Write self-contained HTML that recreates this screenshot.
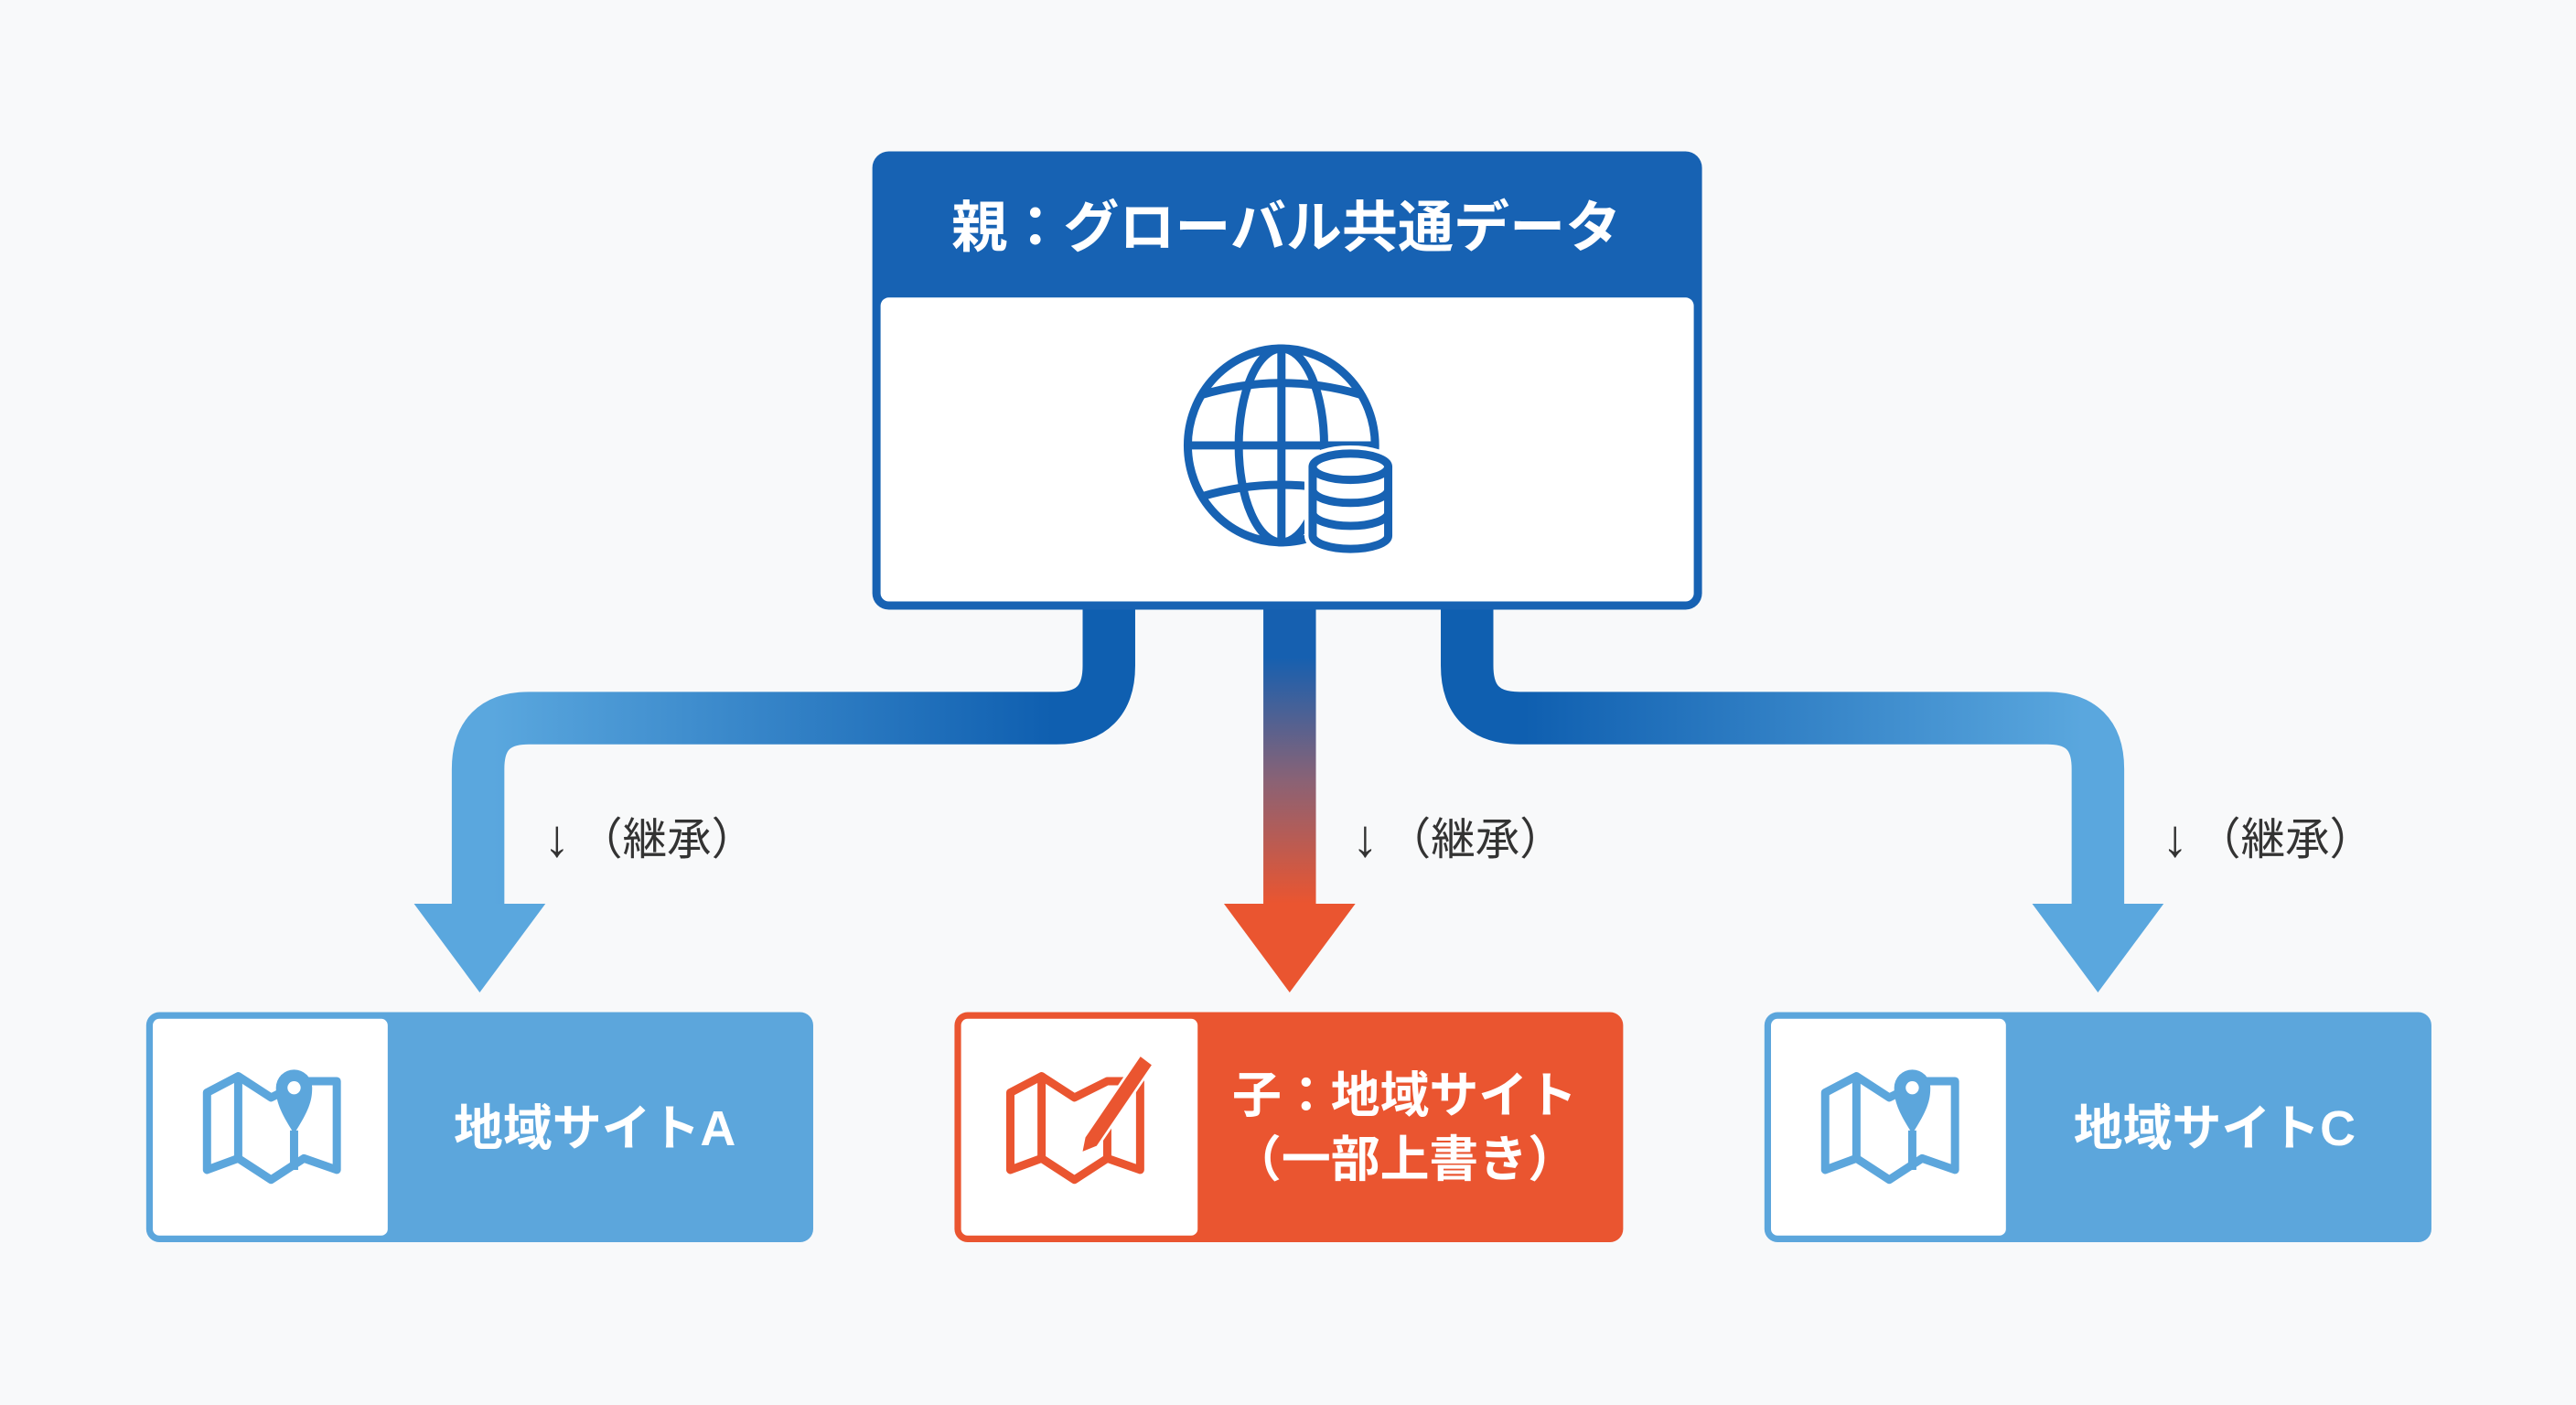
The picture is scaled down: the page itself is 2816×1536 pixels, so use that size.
<!DOCTYPE html>
<html><head><meta charset="utf-8"><style>
html,body{margin:0;padding:0;background:#f8f9fa;}
svg{display:block}
text{font-family:"Liberation Sans","Noto Sans CJK JP",sans-serif;}
</style></head><body>
<svg width="2816" height="1536" viewBox="0 0 1568 855" xmlns="http://www.w3.org/2000/svg">
<defs>
<linearGradient id="gl" gradientUnits="userSpaceOnUse" x1="640" y1="0" x2="300" y2="0"><stop offset="0" stop-color="#0f5fb0"/><stop offset="1" stop-color="#5aa7de"/></linearGradient>
<linearGradient id="gr" gradientUnits="userSpaceOnUse" x1="928" y1="0" x2="1268" y2="0"><stop offset="0" stop-color="#0f5fb0"/><stop offset="1" stop-color="#5aa7de"/></linearGradient>
<linearGradient id="gc" gradientUnits="userSpaceOnUse" x1="0" y1="400" x2="0" y2="550"><stop offset="0" stop-color="#1660b0"/><stop offset="0.5" stop-color="#8a6275"/><stop offset="1" stop-color="#ea5530"/></linearGradient>
</defs>
<rect width="1568" height="855" fill="#f8f9fa"/>
<!-- pipes -->
<path d="M675 368 V405 Q675 437 643 437 H322 Q291 437 291 468 V552" fill="none" stroke="url(#gl)" stroke-width="32"/>
<polygon points="252,550 332,550 292,604" fill="#5aa7de"/>
<path d="M893 368 V405 Q893 437 925 437 H1246 Q1277 437 1277 468 V552" fill="none" stroke="url(#gr)" stroke-width="32"/>
<polygon points="1237,550 1317,550 1277,604" fill="#5aa7de"/>
<rect x="769" y="368" width="32" height="184" fill="url(#gc)"/>
<polygon points="745,550 825,550 785,604" fill="#ea5530"/>
<!-- parent -->
<rect x="531" y="92" width="505" height="279" rx="10" fill="#1762b3"/>
<rect x="536" y="181" width="495" height="185" rx="5" fill="#fff"/>
<text x="783" y="150" text-anchor="middle" font-size="34" font-weight="bold" fill="#fff">親：グローバル共通データ</text>
<!-- globe -->
<g fill="none" stroke="#1762b3" stroke-width="5">
<ellipse cx="780" cy="271" rx="57" ry="59"/>
<ellipse cx="780" cy="271" rx="26" ry="59"/>
<line x1="780" y1="212" x2="780" y2="330"/>
<path d="M732 240 Q780 226 828 240"/>
<line x1="723" y1="271" x2="837" y2="271"/>
<path d="M732 302 Q780 288 828 302"/>
</g>
<g stroke="#fff" stroke-width="10" fill="#fff">
<path d="M799 284 V326 A23 8 0 0 0 845 326 V284 A23 8 0 0 0 799 284Z"/>
</g>
<g fill="#fff" stroke="#1762b3" stroke-width="5">
<path d="M799 284 V326 A23 8 0 0 0 845 326 V284"/>
<ellipse cx="822" cy="284" rx="23" ry="8"/>
<path d="M799 298 A23 8 0 0 0 845 298 M799 312 A23 8 0 0 0 845 312" fill="none"/>
</g>
<!-- labels -->
<g font-size="27" fill="#333">
<text x="331" y="521" font-size="32">↓</text><text x="352" y="520">（継承）</text>
<text x="823" y="521" font-size="32">↓</text><text x="844" y="520">（継承）</text>
<text x="1316" y="521" font-size="32">↓</text><text x="1337" y="520">（継承）</text>
</g>
<!-- child A -->
<rect x="89" y="616" width="406" height="140" rx="8" fill="#5ca6dc"/>
<rect x="93" y="620" width="143" height="132" rx="4" fill="#fff"/>
<g fill="none" stroke="#5ca6dc" stroke-width="5" stroke-linejoin="round">
<polygon points="126,665 145,655 165,668 185,658 205,658 205,712 185,705 165,718 145,705 126,712"/>
<line x1="145" y1="655" x2="145" y2="705"/><line x1="179" y1="688" x2="179" y2="712"/>
</g>
<path d="M179 690 C170 676 168 670 168 662 A11 11 0 0 1 190 662 C190 670 188 676 179 690Z" fill="#5ca6dc"/><circle cx="179" cy="662" r="4" fill="#fff"/>
<text x="362" y="697" text-anchor="middle" font-size="30" font-weight="bold" fill="#fff">地域サイトA</text>
<!-- child C -->
<rect x="1074" y="616" width="406" height="140" rx="8" fill="#5ca6dc"/>
<rect x="1078" y="620" width="143" height="132" rx="4" fill="#fff"/>
<g fill="none" stroke="#5ca6dc" stroke-width="5" stroke-linejoin="round">
<polygon points="1111,665 1130,655 1150,668 1170,658 1190,658 1190,712 1170,705 1150,718 1130,705 1111,712"/>
<line x1="1130" y1="655" x2="1130" y2="705"/><line x1="1164" y1="688" x2="1164" y2="712"/>
</g>
<path d="M1164 690 C1155 676 1153 670 1153 662 A11 11 0 0 1 1175 662 C1175 670 1173 676 1164 690Z" fill="#5ca6dc"/><circle cx="1164" cy="662" r="4" fill="#fff"/>
<text x="1348" y="697" text-anchor="middle" font-size="30" font-weight="bold" fill="#fff">地域サイトC</text>
<!-- child middle -->
<rect x="581" y="616" width="407" height="140" rx="8" fill="#ea5530"/>
<rect x="585" y="620" width="144" height="132" rx="4" fill="#fff"/>
<g fill="none" stroke="#ea5530" stroke-width="5" stroke-linejoin="round">
<polygon points="615,665 634,655 654,668 674,658 694,658 694,712 674,705 654,718 634,705 615,712"/>
<line x1="634" y1="655" x2="634" y2="705"/><line x1="674" y1="680" x2="674" y2="705"/>
</g>
<path d="M660 692 L694 642 L702 648 L668 698 L658 702Z" fill="#ea5530" stroke="#fff" stroke-width="1.5"/>
<text x="855" y="677" text-anchor="middle" font-size="30" font-weight="bold" fill="#fff">子：地域サイト</text>
<text x="855" y="716" text-anchor="middle" font-size="30" font-weight="bold" fill="#fff">（一部上書き）</text>
</svg>
</body></html>
